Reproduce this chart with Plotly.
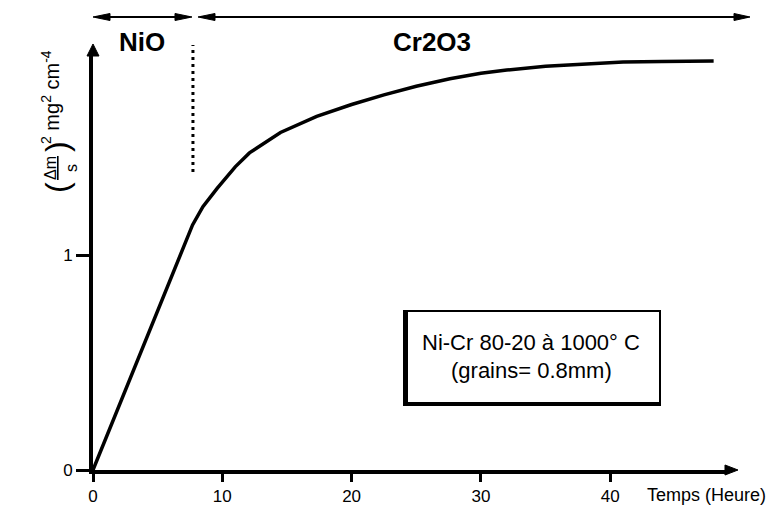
import plotly.graph_objects as go

# ---- data ----
time_h = [0, 7.7, 8.5, 9.6, 11, 12.1, 14.5, 17.3, 20, 22.5, 25, 27.6, 30, 32, 35, 38, 41, 44, 48]
mass_gain_sq = [0, 1.14, 1.225, 1.31, 1.41, 1.475, 1.57, 1.645, 1.70, 1.745, 1.785, 1.82,
                1.845, 1.86, 1.878, 1.89, 1.898, 1.90, 1.902]
x_ticks = [0, 10, 20, 30, 40]
y_ticks = [0, 1]
phase_labels = ["NiO", "Cr2O3"]
transition_time = 7.73
box_lines = ["Ni-Cr 80-20 à 1000° C", "(grains= 0.8mm)"]
x_title = "Temps (Heure)"

# ---- layout geometry (reference pixels; page body adds an 8px margin) ----
OFF = 8
W, H = 784 - 2 * OFF, 515 - 2 * OFF
LEFT, RIGHT, TOP, BOTTOM = 93, 729, 55, 470
PX_PER_H = 12.93
PX_PER_Y = 215.0
XMAX = (RIGHT - LEFT) / PX_PER_H
YMAX = (BOTTOM - TOP) / PX_PER_Y

FONT = "Liberation Sans, Arial, Helvetica, sans-serif"


def P(px, py):
    return ((px - LEFT) / (RIGHT - LEFT), (BOTTOM - py) / (BOTTOM - TOP))


def tri(tip, base, half):
    tx, ty = tip
    bx, by = base
    dx, dy = tx - bx, ty - by
    n = (dx * dx + dy * dy) ** 0.5
    nx, ny = -dy / n, dx / n
    pts = [(tx, ty), (bx + nx * half, by + ny * half), (bx - nx * half, by - ny * half)]
    pp = [P(*p) for p in pts]
    path = "M{:.5f},{:.5f} L{:.5f},{:.5f} L{:.5f},{:.5f} Z".format(*pp[0], *pp[1], *pp[2])
    return dict(type="path", xref="paper", yref="paper", path=path,
                fillcolor="black", line=dict(color="black", width=1))


def seg(p0, p1, width=2):
    a, b = P(*p0), P(*p1)
    return dict(type="line", xref="paper", yref="paper", x0=a[0], y0=a[1], x1=b[0], y1=b[1],
                line=dict(color="black", width=width))


def text(px, py, s, size, angle=0, family=FONT):
    x, y = P(px, py)
    return dict(xref="paper", yref="paper", x=x, y=y, text=s, showarrow=False,
                xanchor="center", yanchor="middle", textangle=angle,
                font=dict(family=family, size=size, color="black"))


fig = go.Figure()
fig.add_trace(go.Scatter(x=time_h, y=mass_gain_sq, mode="lines",
                         line=dict(color="black", width=3.5), hoverinfo="skip",
                         showlegend=False))

shapes = []
# axis arrowheads
shapes.append(tri((RIGHT + 9, BOTTOM), (RIGHT - 4, BOTTOM), 5))
shapes.append(tri((LEFT, TOP - 11), (LEFT, TOP + 1), 6))
# top phase arrows
shapes.append(seg((95, 17), (190, 17), width=2))
shapes.append(tri((93, 17), (110, 17), 3.5))
shapes.append(tri((192, 17), (175, 17), 3.5))
shapes.append(seg((200, 17), (748, 17), width=2))
shapes.append(tri((198, 17), (215, 17), 3.5))
shapes.append(tri((750, 17), (734, 17), 3.5))
# dotted transition line
yd0 = P(0, 172)[1]
yd1 = P(0, 45)[1]
shapes.append(dict(type="line", xref="x", yref="paper", x0=transition_time, x1=transition_time,
                   y0=yd0, y1=yd1, line=dict(color="black", width=3, dash="3px,4px")))
# legend box with shadow
b0 = P(404, 405)
b1 = P(660, 311)
shapes.append(dict(type="rect", xref="paper", yref="paper", x0=b0[0], y0=b0[1], x1=b1[0], y1=b1[1],
                   line=dict(color="black", width=2), fillcolor="rgba(0,0,0,0)"))
shapes.append(seg((406, 311), (406, 406), width=4))
shapes.append(seg((404, 404), (660, 404), width=4))

annotations = []
annotations.append(text(142, 42, "<b>%s</b>" % phase_labels[0], 26))
annotations.append(text(432, 42, "<b>%s</b>" % phase_labels[1], 26))
annotations.append(text(531, 342, box_lines[0], 22))
annotations.append(text(531, 370, box_lines[1], 22))
annotations.append(text(706, 495, x_title, 18))
# y axis label: (Δm / s)^2 mg^2 cm^-4, rotated
annotations.append(text(61, 168, "<u>Δm</u><br>s", 16, -90))
annotations.append(text(57, 188, "(", 32, -90))
annotations.append(text(57, 147, ")", 32, -90))
annotations.append(text(50, 97, "<sup>2</sup> mg<sup>2</sup> cm<sup>-4</sup>", 20, -90))

axis_common = dict(showline=True, linecolor="black", linewidth=4, ticks="outside",
                   tickwidth=2.5, tickcolor="black", showgrid=False, zeroline=False,
                   automargin=False, tickfont=dict(family=FONT, size=17, color="black"))

fig.update_layout(
    template="none",
    width=W, height=H,
    margin=dict(l=LEFT - OFF, r=(784 - OFF) - RIGHT, t=TOP - OFF, b=(515 - OFF) - BOTTOM,
                pad=0, autoexpand=False),
    paper_bgcolor="white", plot_bgcolor="white",
    shapes=shapes, annotations=annotations, showlegend=False,
    xaxis=dict(range=[0, XMAX], tickvals=x_ticks, ticktext=[str(v) for v in x_ticks],
               ticklen=8, **axis_common),
    yaxis=dict(range=[0, YMAX], tickvals=y_ticks, ticktext=[str(v) for v in y_ticks],
               ticklen=13, **axis_common),
)

fig.write_html("out.html")
